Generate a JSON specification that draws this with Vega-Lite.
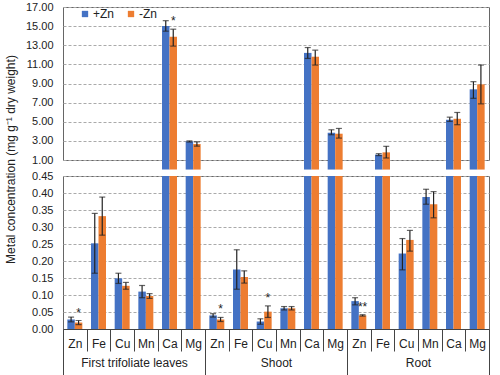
{
  "$schema": "https://vega.github.io/schema/vega-lite/v6.json",
  "padding": {"left": 3, "top": 0, "right": 12, "bottom": 0},
  "config": {
    "font": "Liberation Sans",
    "view": {"stroke": "#666", "strokeWidth": 1},
    "axis": {"labelFont": "Liberation Sans", "titleFont": "Liberation Sans", "labelColor": "#222", "titleColor": "#222", "labelFontSize": 11, "titleFontWeight": "normal"},
    "axisY": {"gridDash": [3, 2], "gridColor": "#aaa", "ticks": false, "domain": false, "labelPadding": 10}
  },
  "datasets": {
    "d": [
      {"organ": "First trifoliate leaves", "cat": "Zn|L", "trt": "+Zn", "value": 0.028, "lo": 0.021, "hi": 0.035},
      {"organ": "First trifoliate leaves", "cat": "Zn|L", "trt": "-Zn", "value": 0.019, "lo": 0.013, "hi": 0.025, "sig": "*"},
      {"organ": "First trifoliate leaves", "cat": "Fe|L", "trt": "+Zn", "value": 0.252, "lo": 0.164, "hi": 0.340},
      {"organ": "First trifoliate leaves", "cat": "Fe|L", "trt": "-Zn", "value": 0.332, "lo": 0.276, "hi": 0.388},
      {"organ": "First trifoliate leaves", "cat": "Cu|L", "trt": "+Zn", "value": 0.149, "lo": 0.134, "hi": 0.164},
      {"organ": "First trifoliate leaves", "cat": "Cu|L", "trt": "-Zn", "value": 0.127, "lo": 0.117, "hi": 0.137},
      {"organ": "First trifoliate leaves", "cat": "Mn|L", "trt": "+Zn", "value": 0.110, "lo": 0.092, "hi": 0.128},
      {"organ": "First trifoliate leaves", "cat": "Mn|L", "trt": "-Zn", "value": 0.097, "lo": 0.090, "hi": 0.104},
      {"organ": "First trifoliate leaves", "cat": "Ca|L", "trt": "+Zn", "value": 15.02, "lo": 14.47, "hi": 15.57},
      {"organ": "First trifoliate leaves", "cat": "Ca|L", "trt": "-Zn", "value": 13.9, "lo": 12.91, "hi": 14.68, "sig": "*"},
      {"organ": "First trifoliate leaves", "cat": "Mg|L", "trt": "+Zn", "value": 2.95, "lo": 2.88, "hi": 3.0},
      {"organ": "First trifoliate leaves", "cat": "Mg|L", "trt": "-Zn", "value": 2.67, "lo": 2.45, "hi": 2.9},
      {"organ": "Shoot", "cat": "Zn|S", "trt": "+Zn", "value": 0.040, "lo": 0.035, "hi": 0.045},
      {"organ": "Shoot", "cat": "Zn|S", "trt": "-Zn", "value": 0.028, "lo": 0.022, "hi": 0.034, "sig": "*"},
      {"organ": "Shoot", "cat": "Fe|S", "trt": "+Zn", "value": 0.175, "lo": 0.117, "hi": 0.233},
      {"organ": "Shoot", "cat": "Fe|S", "trt": "-Zn", "value": 0.153, "lo": 0.135, "hi": 0.171},
      {"organ": "Shoot", "cat": "Cu|S", "trt": "+Zn", "value": 0.022, "lo": 0.014, "hi": 0.030},
      {"organ": "Shoot", "cat": "Cu|S", "trt": "-Zn", "value": 0.051, "lo": 0.034, "hi": 0.068, "sig": "*"},
      {"organ": "Shoot", "cat": "Mn|S", "trt": "+Zn", "value": 0.061, "lo": 0.056, "hi": 0.066},
      {"organ": "Shoot", "cat": "Mn|S", "trt": "-Zn", "value": 0.061, "lo": 0.056, "hi": 0.066},
      {"organ": "Shoot", "cat": "Ca|S", "trt": "+Zn", "value": 12.2, "lo": 11.62, "hi": 12.76},
      {"organ": "Shoot", "cat": "Ca|S", "trt": "-Zn", "value": 11.8, "lo": 10.93, "hi": 12.49},
      {"organ": "Shoot", "cat": "Mg|S", "trt": "+Zn", "value": 3.85, "lo": 3.64, "hi": 4.16},
      {"organ": "Shoot", "cat": "Mg|S", "trt": "-Zn", "value": 3.75, "lo": 3.29, "hi": 4.3},
      {"organ": "Root", "cat": "Zn|R", "trt": "+Zn", "value": 0.082, "lo": 0.071, "hi": 0.092},
      {"organ": "Root", "cat": "Zn|R", "trt": "-Zn", "value": 0.040, "lo": 0.038, "hi": 0.042, "sig": "**"},
      {"organ": "Root", "cat": "Fe|R", "trt": "+Zn", "value": 1.56, "lo": 1.46, "hi": 1.66},
      {"organ": "Root", "cat": "Fe|R", "trt": "-Zn", "value": 1.8, "lo": 1.21, "hi": 2.43},
      {"organ": "Root", "cat": "Cu|R", "trt": "+Zn", "value": 0.222, "lo": 0.174, "hi": 0.266},
      {"organ": "Root", "cat": "Cu|R", "trt": "-Zn", "value": 0.262, "lo": 0.229, "hi": 0.290},
      {"organ": "Root", "cat": "Mn|R", "trt": "+Zn", "value": 0.388, "lo": 0.367, "hi": 0.411},
      {"organ": "Root", "cat": "Mn|R", "trt": "-Zn", "value": 0.367, "lo": 0.327, "hi": 0.404},
      {"organ": "Root", "cat": "Ca|R", "trt": "+Zn", "value": 5.21, "lo": 5.03, "hi": 5.48},
      {"organ": "Root", "cat": "Ca|R", "trt": "-Zn", "value": 5.31, "lo": 4.69, "hi": 5.97},
      {"organ": "Root", "cat": "Mg|R", "trt": "+Zn", "value": 8.39, "lo": 7.45, "hi": 9.19},
      {"organ": "Root", "cat": "Mg|R", "trt": "-Zn", "value": 8.91, "lo": 6.87, "hi": 10.93}
    ]
  },
  "data": {"name": "d"},
  "spacing": 16,
  "bounds": "flush",
  "resolve": {"legend": {"color": "independent"}},
  "vconcat": [
    {
      "width": 426,
      "height": 153,
      "transform": [{"filter": "datum.value >= 1"}],
      "encoding": {
        "x": {"field": "cat", "type": "nominal", "scale": {"domain": ["Zn|L","Fe|L","Cu|L","Mn|L","Ca|L","Mg|L","Zn|S","Fe|S","Cu|S","Mn|S","Ca|S","Mg|S","Zn|R","Fe|R","Cu|R","Mn|R","Ca|R","Mg|R"], "paddingInner": 0, "paddingOuter": 0}, "axis": null},
        "xOffset": {"field": "trt", "type": "nominal", "scale": {"domain": ["+Zn", "-Zn"], "paddingOuter": 0.58, "paddingInner": 0}}
      },
      "layer": [
        {
          "mark": {"type": "bar"},
          "encoding": {
            "y": {"field": "value", "type": "quantitative", "scale": {"domain": [1, 17], "nice": false, "zero": false},
              "axis": {"values": [1,3,5,7,9,11,13,15,17], "format": ".2f", "title": "Metal concentration (mg g⁻¹ dry weight)", "titleFontSize": 12, "titleX": -53, "titleY": 152, "titleAngle": -90, "titleAlign": "center", "titleBaseline": "middle"}},
            "color": {"field": "trt", "type": "nominal", "scale": {"domain": ["+Zn", "-Zn"], "range": ["#4472C4", "#ED7D31"]},
              "legend": {"orient": "none", "legendX": 16, "legendY": 1, "direction": "horizontal", "title": null, "symbolType": "square", "symbolSize": 40, "labelFontSize": 12, "labelColor": "#222", "columnPadding": 10, "labelOffset": 2, "padding": 0, "symbolStrokeWidth": 0}}
          }
        },
        {"mark": {"type": "rule", "color": "#222", "strokeWidth": 1.2}, "encoding": {"y": {"field": "lo", "type": "quantitative", "axis": {"values": [1,3,5,7,9,11,13,15,17], "format": ".2f", "title": "Metal concentration (mg g⁻¹ dry weight)", "titleFontSize": 12, "titleX": -53, "titleY": 152, "titleAngle": -90, "titleAlign": "center", "titleBaseline": "middle"}}, "y2": {"field": "hi"}}},
        {"mark": {"type": "tick", "color": "#222", "size": 6, "thickness": 1.2}, "encoding": {"y": {"field": "lo", "type": "quantitative", "axis": {"values": [1,3,5,7,9,11,13,15,17], "format": ".2f", "title": "Metal concentration (mg g⁻¹ dry weight)", "titleFontSize": 12, "titleX": -53, "titleY": 152, "titleAngle": -90, "titleAlign": "center", "titleBaseline": "middle"}}}},
        {"mark": {"type": "tick", "color": "#222", "size": 6, "thickness": 1.2}, "encoding": {"y": {"field": "hi", "type": "quantitative", "axis": {"values": [1,3,5,7,9,11,13,15,17], "format": ".2f", "title": "Metal concentration (mg g⁻¹ dry weight)", "titleFontSize": 12, "titleX": -53, "titleY": 152, "titleAngle": -90, "titleAlign": "center", "titleBaseline": "middle"}}}},
        {"transform": [{"filter": "datum.sig"}], "mark": {"type": "text", "dy": -1, "baseline": "bottom", "fontSize": 12, "color": "#222"}, "encoding": {"y": {"field": "hi", "type": "quantitative", "axis": {"values": [1,3,5,7,9,11,13,15,17], "format": ".2f", "title": "Metal concentration (mg g⁻¹ dry weight)", "titleFontSize": 12, "titleX": -53, "titleY": 152, "titleAngle": -90, "titleAlign": "center", "titleBaseline": "middle"}}, "text": {"field": "sig"}}}
      ]
    },
    {
      "width": 426,
      "height": 153,
      "layer": [
        {
          "encoding": {
            "x": {"field": "cat", "type": "nominal", "scale": {"domain": ["Zn|L","Fe|L","Cu|L","Mn|L","Ca|L","Mg|L","Zn|S","Fe|S","Cu|S","Mn|S","Ca|S","Mg|S","Zn|R","Fe|R","Cu|R","Mn|R","Ca|R","Mg|R"], "paddingInner": 0, "paddingOuter": 0},
              "axis": {"orient": "bottom", "labelExpr": "slice(datum.label, 0, 2)", "tickBand": "extent", "tickSize": 22, "labelPadding": -13, "labelAngle": 0, "labelFontSize": 12, "title": null, "domainColor": "#444", "tickColor": "#444", "grid": false}},
            "xOffset": {"field": "trt", "type": "nominal", "scale": {"domain": ["+Zn", "-Zn"], "paddingOuter": 0.58, "paddingInner": 0}}
          },
          "layer": [
            {
              "mark": {"type": "bar", "clip": true},
              "encoding": {
                "y": {"field": "value", "type": "quantitative", "scale": {"domain": [0, 0.45], "nice": false},
                  "axis": {"values": [0,0.05,0.1,0.15,0.2,0.25,0.3,0.35,0.4,0.45], "format": ".2f", "title": null}},
                "color": {"field": "trt", "type": "nominal", "legend": null}
              }
            },
            {"mark": {"type": "rule", "color": "#222", "strokeWidth": 1.2, "clip": true}, "encoding": {"y": {"field": "lo", "type": "quantitative", "axis": {"values": [0,0.05,0.1,0.15,0.2,0.25,0.3,0.35,0.4,0.45], "format": ".2f", "title": null}}, "y2": {"field": "hi"}}},
            {"mark": {"type": "tick", "color": "#222", "size": 6, "thickness": 1.2, "clip": true}, "encoding": {"y": {"field": "lo", "type": "quantitative", "axis": {"values": [0,0.05,0.1,0.15,0.2,0.25,0.3,0.35,0.4,0.45], "format": ".2f", "title": null}}}},
            {"mark": {"type": "tick", "color": "#222", "size": 6, "thickness": 1.2, "clip": true}, "encoding": {"y": {"field": "hi", "type": "quantitative", "axis": {"values": [0,0.05,0.1,0.15,0.2,0.25,0.3,0.35,0.4,0.45], "format": ".2f", "title": null}}}},
            {"transform": [{"filter": "datum.sig && datum.hi < 0.45"}], "mark": {"type": "text", "dy": -1, "baseline": "bottom", "fontSize": 12, "color": "#222"}, "encoding": {"y": {"field": "hi", "type": "quantitative", "axis": {"values": [0,0.05,0.1,0.15,0.2,0.25,0.3,0.35,0.4,0.45], "format": ".2f", "title": null}}, "text": {"field": "sig"}}}
          ]
        },
        {
          "mark": {"type": "rule", "opacity": 0},
          "encoding": {
            "x": {"field": "organ", "type": "nominal", "scale": {"domain": ["First trifoliate leaves", "Shoot", "Root"], "paddingInner": 0, "paddingOuter": 0},
              "axis": {"orient": "bottom", "tickBand": "extent", "tickSize": 47, "labelPadding": -19, "labelAngle": 0, "labelFontSize": 12, "title": null, "domain": false, "tickColor": "#444", "grid": false}}
          }
        }
      ],
      "resolve": {"scale": {"x": "independent"}, "axis": {"x": "independent"}}
    }
  ]
}
